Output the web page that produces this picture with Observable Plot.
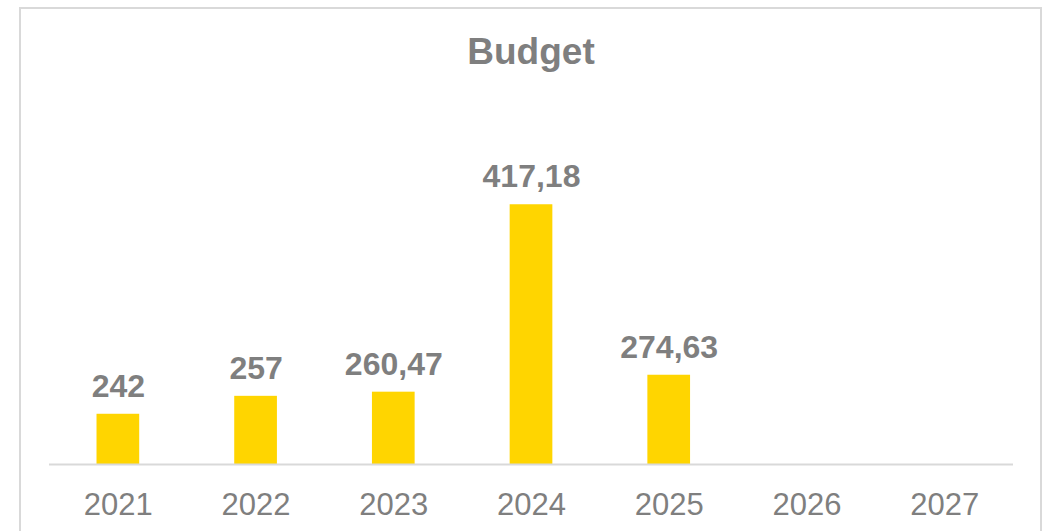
<!DOCTYPE html>
<html>
<head>
<meta charset="utf-8">
<script src="https://cdn.jsdelivr.net/npm/d3@7"></script>
<script src="https://cdn.jsdelivr.net/npm/@observablehq/plot@0.6"></script>
<style>
  html, body { margin: 0; padding: 0; background: #fff; }
  body { width: 1045px; height: 531px; position: relative; overflow: hidden; font-family: "Liberation Sans", Arial, sans-serif; }
  #frame { position: absolute; left: 19px; top: 7px; width: 1019px; height: 600px; border: 2px solid #d9d9d9; box-sizing: content-box; }
  #title { position: absolute; left: 0; width: 1062px; top: 33px; line-height: 37px; font-size: 37px; font-weight: bold; color: #7f7f7f; text-align: center; }
  #chart { position: absolute; left: 0; top: 0; }
</style>
</head>
<body>
<div id="frame"></div>
<div id="chart"></div>
<div id="title">Budget</div>
<script>
const years = ["2021", "2022", "2023", "2024", "2025", "2026", "2027"];
const budgetYears = ["2021", "2022", "2023", "2024", "2025"];
const budgetValues = [242, 257, 260.47, 417.18, 274.63];
const budgetLabels = ["242", "257", "260,47", "417,18", "274,63"];

const data = budgetYears.map((y, i) => ({year: y, value: budgetValues[i], label: budgetLabels[i]}));

const chart = Plot.plot({
  width: 1045,
  height: 531,
  marginLeft: 49,
  marginRight: 32,
  marginTop: 165,
  marginBottom: 67,
  style: {fontFamily: "'Liberation Sans', Arial, sans-serif", background: "transparent", overflow: "visible"},
  x: {domain: years, paddingInner: 0.69, paddingOuter: 0.345, round: false, axis: null},
  y: {domain: [200, 450], axis: null},
  marks: [
    Plot.barY(data, {x: "year", y1: 200, y2: "value", fill: "#FFD500"}),
    Plot.ruleY([200], {stroke: "#d9d9d9", strokeWidth: 2}),
    Plot.axisX({tickSize: 0, tickPadding: 28, fontSize: 31, fill: "#7f7f7f", label: null}),
    Plot.text(data, {x: "year", y: "value", text: "label", dy: -17.5, lineAnchor: "bottom", fontSize: 32, fontWeight: "bold", fill: "#7f7f7f"})
  ]
});
document.getElementById("chart").appendChild(chart);
</script>
</body>
</html>
